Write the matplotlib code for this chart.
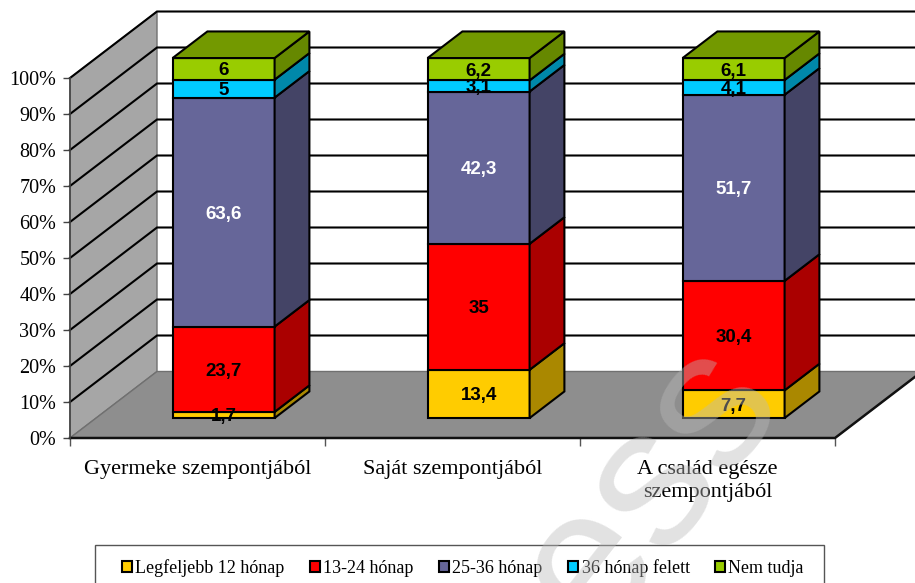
import numpy as np
import matplotlib
matplotlib.use("Agg")
import matplotlib.pyplot as plt
from matplotlib.patches import Polygon, Patch, Rectangle

categories = ["Gyermeke szempontjából", "Saját szempontjából", "A család egésze\nszempontjából"]
series_names = ["Legfeljebb 12 hónap", "13-24 hónap", "25-36 hónap", "36 hónap felett", "Nem tudja"]
v_legf = [1.7, 13.4, 7.7]
v_1324 = [23.7, 35, 30.4]
v_2536 = [63.6, 42.3, 51.7]
v_36f = [5, 3.1, 4.1]
v_nem = [6, 6.2, 6.1]
labels_legf = ["1,7", "13,4", "7,7"]
labels_1324 = ["23,7", "35", "30,4"]
labels_2536 = ["63,6", "42,3", "51,7"]
labels_36f = ["5", "3,1", "4,1"]
labels_nem = ["6", "6,2", "6,1"]
face_colors = ["#FFCC00", "#FF0000", "#666699", "#00CCFF", "#99CC00"]
side_colors = ["#AA8800", "#AA0000", "#444466", "#0088AA", "#668800"]
top_color = "#739900"
label_colors = ["black", "black", "white", "black", "black"]

series = [v_legf, v_1324, v_2536, v_36f, v_nem]
series_labels = [labels_legf, labels_1324, labels_2536, labels_36f, labels_nem]

W, H = 915, 583
L, R, B, T = 70, 835, 438, 78
fig = plt.figure(figsize=(W / 100, H / 100), dpi=100, facecolor="white")
ax = fig.add_axes([L / W, 1 - B / H, (R - L) / W, (B - T) / H])
ax.set_xlim(0, 3)
ax.set_ylim(0, 100)
ax.patch.set_visible(False)

# oblique projection: depth d in 0..1 moves a point right and up
DX = 87 / 255
DY = 66.5 / 3.6


def proj(x, y, d):
    return (x + d * DX, y + d * DY)


def face(pts, fc, ec="black", lw=1.5, z=3):
    ax.add_patch(Polygon([proj(*p) for p in pts], closed=True, facecolor=fc,
                         edgecolor=ec, linewidth=lw, joinstyle="miter",
                         clip_on=False, zorder=z))


# walls and floor
face([(0, 0, 0), (0, 0, 1), (0, 100, 1), (0, 100, 0)], "#A6A6A6", ec="#707070", lw=1, z=1)
face([(0, 0, 0), (3, 0, 0), (3, 0, 1), (0, 0, 1)], "#8E8E8E", ec="#707070", lw=1, z=1)

# gridlines
for g in range(10, 101, 10):
    xs, ys = zip(proj(0, g, 0), proj(0, g, 1), proj(3, g, 1))
    ax.plot(xs, ys, color="black", lw=1.5, clip_on=False, zorder=2, solid_joinstyle="miter")
x0, y0 = proj(3, 0, 0)
x1, y1 = proj(3, 0, 1)
ax.plot([0, x0, x1], [0, y0, y1], color="#111111", lw=1.8, clip_on=False, zorder=2)

# stacked 3D bars
bar_w = 0.4
d0, d1 = 0.30, 0.70
z = 3
for i, _ in enumerate(categories):
    xl, xr = i + 0.5 - bar_w / 2, i + 0.5 + bar_w / 2
    bottom = 0.0
    for s, vals in enumerate(series):
        v = vals[i]
        top = bottom + v
        face([(xl, bottom, d0), (xr, bottom, d0), (xr, top, d0), (xl, top, d0)], face_colors[s], z=z)
        face([(xr, bottom, d0), (xr, bottom, d1), (xr, top, d1), (xr, top, d0)], side_colors[s], z=z)
        if s == len(series) - 1:
            face([(xl, top, d0), (xr, top, d0), (xr, top, d1), (xl, top, d1)], top_color, z=z)
        lx, ly = proj(i + 0.5, bottom + v / 2, d0)
        ax.text(lx, ly, series_labels[s][i], ha="center", va="center_baseline",
                family="Liberation Sans", fontweight="bold", fontsize=13.5,
                color=label_colors[s], zorder=6, clip_on=False)
        bottom = top

# axes
for sp in ["top", "right", "bottom"]:
    ax.spines[sp].set_visible(False)
ax.spines["left"].set_color("#444444")
ax.spines["left"].set_linewidth(1.2)
ax.set_yticks(range(0, 101, 10))
ax.set_yticklabels([f"{g}%" for g in range(0, 101, 10)], family="Liberation Serif", fontsize=14.5)
ax.tick_params(axis="y", length=5, width=1, color="#444444", pad=5)
ax.set_xticks([0, 1, 2, 3])
ax.set_xticklabels([])
ax.tick_params(axis="x", length=6, width=1, color="#555555")
ax.set_xticks([0.5, 1.5, 2.5], minor=True)
ax.set_xticklabels(categories, minor=True, family="Liberation Serif", fontsize=16,
                   linespacing=1.3)
ax.tick_params(axis="x", which="minor", length=0, pad=15.5)

# legend
fig.add_artist(Rectangle((95 / W, 1 - 600 / H), (824 - 95) / W, 55 / H, transform=fig.transFigure,
                         facecolor="white", edgecolor="#555555", linewidth=1, zorder=5))
handles = [Patch(facecolor=c, edgecolor="black", linewidth=1.5) for c in face_colors]
leg = fig.legend(handles, series_names, ncol=5, loc="center left",
                 bbox_to_anchor=(122 / W, 1 - 568 / H), bbox_transform=fig.transFigure,
                 prop={"family": "Liberation Serif", "size": 13}, frameon=False,
                 borderaxespad=0, borderpad=0,
                 handlelength=0.55, handleheight=0.55, handletextpad=0.18, columnspacing=1.42)
leg.set_zorder(6)

# watermark
fig.text(784 / W, 1 - 398 / H, "ess", fontsize=142, family="Liberation Sans",
         color="#BABABA", alpha=0.42, rotation=52, rotation_mode="anchor",
         ha="right", va="baseline", zorder=20)

fig.savefig("out.png", dpi=100, facecolor="white")
